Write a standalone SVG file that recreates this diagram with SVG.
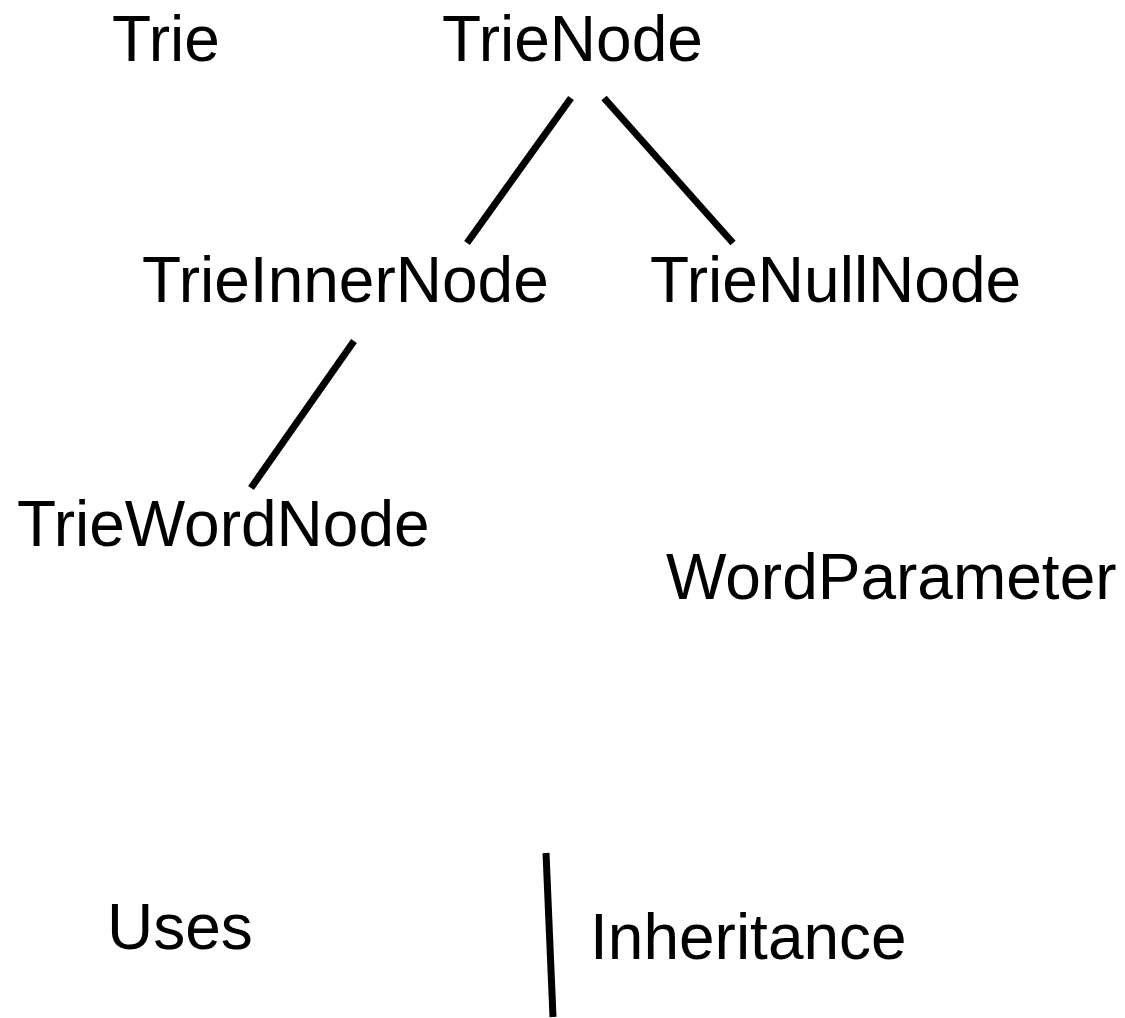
<svg xmlns="http://www.w3.org/2000/svg" width="1125" height="1018" viewBox="0 0 1125 1018">
<style>
text{font-family:"Liberation Sans",Arial,sans-serif;font-size:64px;fill:#000}
.c{stroke:#000;stroke-width:7;fill:none}
</style>
<rect width="1125" height="1018" fill="#fff"/>
<g id="trie"><text x="112" y="61">Trie</text></g>
<g id="trienode"><text x="442" y="61">TrieNode</text></g>
<g id="trieinnernode"><text x="142" y="302">TrieInnerNode</text></g>
<g id="trienullnode"><text x="650" y="302">TrieNullNode</text></g>
<g id="triewordnode"><text x="17" y="546">TrieWordNode</text></g>
<g id="wordparameter"><text x="666" y="599">WordParameter</text></g>
<g id="legend-uses"><text x="107" y="949">Uses</text></g>
<g id="legend-inheritance"><text x="590" y="959">Inheritance</text></g>
<g id="connectors">
<line class="c" x1="571" y1="98" x2="467" y2="243"/>
<line class="c" x1="604" y1="98" x2="733" y2="243"/>
<line class="c" x1="354" y1="341" x2="251" y2="488"/>
<line class="c" x1="546" y1="853" x2="553" y2="1017"/>
</g>
</svg>
